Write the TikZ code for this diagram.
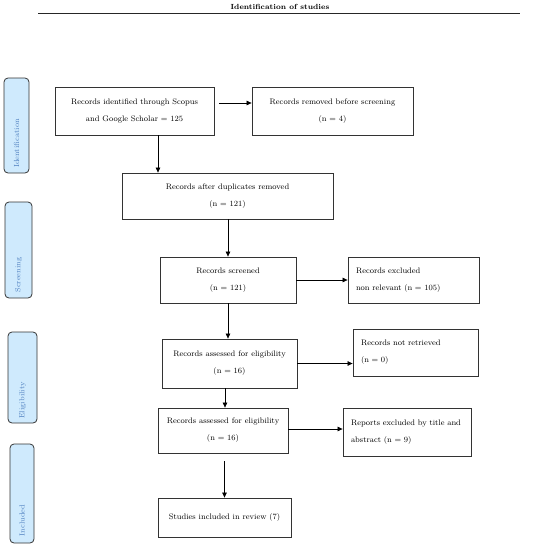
\documentclass[tikz,border=0pt]{standalone}
\usetikzlibrary{arrows.meta}
\definecolor{tabfill}{HTML}{CFEAFD}
\definecolor{tabtext}{HTML}{4F80C0}
\begin{document}
\begin{tikzpicture}[x=1pt,y=-1pt,
  box/.style={draw=black!80, line width=0.8pt, inner sep=0pt, align=center,
    font=\fontsize{8}{17}\selectfont},
  lbox/.style={box, align=left},
  tab/.style={draw=black!80, line width=0.8pt, fill=tabfill, rounded corners=4pt,
    inner sep=0pt},
  tablabel/.style={rotate=90, text=tabtext, font=\fontsize{7.4}{9}\selectfont},
  arr/.style={-{Triangle[length=5pt,width=4.5pt]}, line width=0.7pt, black}]
\useasboundingbox (0,0) rectangle (550,547);
% header
\node[font=\bfseries\fontsize{7.4}{9}\selectfont] (title) at (280,7) {Identification of studies};
\coordinate (hl) at (38,13.5);
\coordinate (hr) at (520,13.5);
\draw[line width=0.9pt, black!85] (hl) -- (hr);
% tabs
\node[tab, minimum width=25pt, minimum height=95pt] (t1) at (16.5,125.5) {};
\node[tablabel] (t1l) at ([yshift=-18pt]t1) {Identification};
\node[tab, minimum width=27pt, minimum height=96pt] (t2) at (18.5,250) {};
\node[tablabel] (t2l) at ([yshift=-25pt]t2) {Screening};
\node[tab, minimum width=29pt, minimum height=91pt] (t3) at (22.5,377.5) {};
\node[tablabel] (t3l) at ([yshift=-23pt]t3) {Eligibility};
\node[tab, minimum width=24pt, minimum height=99pt] (t4) at (22,493.5) {};
\node[tablabel] (t4l) at ([yshift=-27pt]t4) {Included};
% boxes
\node[box, minimum width=159pt, minimum height=48pt] (b1) at (134.5,111)
  {Records identified through Scopus\\and Google Scholar = 125};
\node[box, minimum width=161pt, minimum height=48pt] (b2) at (332.5,111)
  {Records removed before screening\\(n = 4)};
\node[box, minimum width=211pt, minimum height=46pt] (b3) at (227.5,196)
  {Records after duplicates removed\\(n = 121)};
\node[box, minimum width=136pt, minimum height=46pt] (b4) at (228,280)
  {Records screened\\(n = 121)};
\node[lbox, minimum width=131pt, minimum height=46pt, text width=115pt] (b5) at (413.5,280)
  {Records excluded\\non relevant (n = 105)};
\node[box, minimum width=135pt, minimum height=49pt] (b6) at (229.5,363.5)
  {Records assessed for eligibility\\(n = 16)};
\node[lbox, minimum width=125pt, minimum height=47pt, text width=109pt] (b7) at (415.5,352.5)
  {Records not retrieved\\(n = 0)};
\node[box, minimum width=130pt, minimum height=45pt] (b8) at (223,430.5)
  {Records assessed for eligibility\\(n = 16)};
\node[box, minimum width=133pt, minimum height=39pt] (b9) at (224.5,517.5)
  {Studies included in review (7)};
\node[lbox, minimum width=128pt, minimum height=48pt, text width=112pt] (b10) at (407,432)
  {Reports excluded by title and\\abstract (n = 9)};
% arrows
\draw[arr] ([xshift=5pt,yshift=8pt]b1.east) -- ([yshift=8pt]b2.west);
\draw[arr] ([xshift=23.5pt]b1.south) -- ([xshift=23.5pt]b1.south |- b3.north);
\draw[arr] (b3.south -| b4.north) -- (b4.north);
\draw[arr] (b4.east) -- (b5.west);
\draw[arr] (b4.south) -- (b4.south |- b6.north);
\draw[arr] (b6.east) -- (b6.east -| b7.west);
\draw[arr] ([xshift=2pt]b8.north |- b6.south) -- ([xshift=2pt]b8.north);
\draw[arr] ([yshift=1.5pt]b8.east) -- ([yshift=1.5pt]b8.east -| b10.west);
\coordinate (s8) at ([yshift=-8pt]b8.south);
\draw[arr] (s8 -| b9.north) -- (b9.north);
\end{tikzpicture}
\end{document}
